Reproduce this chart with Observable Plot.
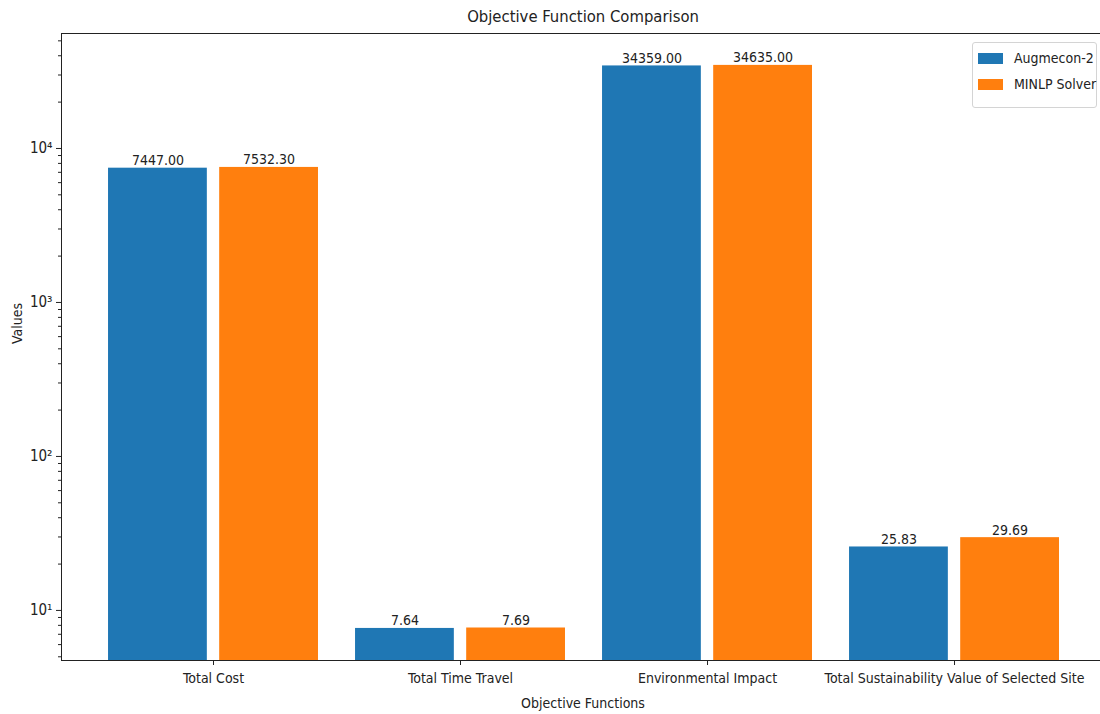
<!DOCTYPE html>
<html>
<head>
<meta charset="utf-8">
<script src="https://cdn.jsdelivr.net/npm/d3@7"></script>
<script src="https://cdn.jsdelivr.net/npm/@observablehq/plot@0.6"></script>
<style>
  body { margin: 0; background: #fff; }
  #wrap { position: relative; width: 1100px; height: 714px; overflow: hidden;
          font-family: "DejaVu Sans Condensed", "DejaVu Sans", sans-serif; font-stretch: condensed; color: #222; }
  #title { position: absolute; left: 0; top: 7px; width: 1166px; text-align: center; font-size: 16.5px; line-height: 20px; }
  #chart { position: absolute; left: 0; top: 32px; }
  #legend { position: absolute; left: 972px; top: 42px; width: 125px; height: 66px; box-sizing: border-box;
            border: 1px solid #d4d4d4; border-radius: 3px; background: rgba(255,255,255,0.85); }
  .row { position: absolute; left: 5px; height: 12px; display: flex; align-items: center; font-size: 14px; white-space: nowrap; }
  .sw { width: 25px; height: 11px; margin-right: 11px; flex: none; }
</style>
</head>
<body>
<div id="wrap">
  <div id="title"></div>
  <div id="chart"></div>
  <div id="legend"></div>
</div>
<script>
const titleText = "Objective Function Comparison";
const xLabel = "Objective Functions";
const yLabel = "Values";
const categories = ["Total Cost", "Total Time Travel", "Environmental Impact", "Total Sustainability Value of Selected Site"];
const series = ["Augmecon-2", "MINLP Solver"];
const augmecon = [7447.00, 7.64, 34359.00, 25.83];
const minlp = [7532.30, 7.69, 34635.00, 29.69];
const colors = ["#1f77b4", "#ff7f0e"];
const majorTicks = [10, 100, 1000, 10000];

const barWidth = 0.4;
const offsets = [-0.225, 0.225];
const yDomain = [4.73, 55800];
const xDomain = [-0.6154, 3.591];

const values = [augmecon, minlp];
const data = [];
categories.forEach((c, i) => {
  series.forEach((s, j) => {
    data.push({cat: c, i, series: s, value: values[j][i], xc: i + offsets[j]});
  });
});

const minorTicks = [];
for (let e = 0; e <= 4; e++) {
  for (let k = 2; k <= 9; k++) {
    const v = k * Math.pow(10, e);
    if (v >= yDomain[0] && v <= yDomain[1]) minorTicks.push(v);
  }
}
const sup = {"0":"⁰","1":"¹","2":"²","3":"³","4":"⁴","5":"⁵","6":"⁶","7":"⁷","8":"⁸","9":"⁹"};
const fmtPow = v => "10" + String(Math.round(Math.log10(v))).split("").map(ch => sup[ch]).join("");

document.getElementById("title").textContent = titleText;

const plot = Plot.plot({
  width: 1100,
  height: 682,
  marginTop: 1,
  marginBottom: 54,
  marginLeft: 61,
  marginRight: 0,
  style: {fontFamily: "'DejaVu Sans Condensed', 'DejaVu Sans', sans-serif", fontSize: "14px", color: "#222", background: "white", overflow: "visible"},
  x: {type: "linear", domain: xDomain, axis: null},
  y: {type: "log", domain: yDomain, axis: null},
  color: {domain: series, range: colors},
  marks: [
    Plot.rectY(data, {
      x1: d => d.xc - barWidth / 2,
      x2: d => d.xc + barWidth / 2,
      y1: yDomain[0],
      y2: "value",
      fill: "series"
    }),
    Plot.text(data, {
      x: "xc", y: "value", text: d => d.value.toFixed(2),
      lineAnchor: "bottom", dy: -3, fontSize: 14, fill: "#222"
    }),
    Plot.axisY({ticks: minorTicks, tickFormat: () => "", tickSize: 3, label: null, stroke: "#222"}),
    Plot.axisY({ticks: majorTicks, tickFormat: fmtPow, tickSize: 5, tickPadding: 4, label: null, fontSize: 15, stroke: "#222"}),
    Plot.axisX({ticks: categories.map((c, i) => i), tickFormat: i => categories[i], tickSize: 5, tickPadding: 8, label: null, fontSize: 14, stroke: "#222"}),
    Plot.frame({anchor: "left", stroke: "#222"}),
    Plot.frame({anchor: "top", stroke: "#222"}),
    Plot.frame({anchor: "bottom", stroke: "#222"}),
    Plot.text([xLabel], {text: d => d, frameAnchor: "bottom", lineAnchor: "middle", dx: 2, dy: 43, fontSize: 14, fill: "#222"}),
    Plot.text([yLabel], {text: d => d, frameAnchor: "left", rotate: -90, dx: -44, dy: -3, fontSize: 14, fill: "#222", fontFamily: "DejaVu Sans"})
  ]
});
document.getElementById("chart").appendChild(plot);

const legend = document.getElementById("legend");
series.forEach((s, j) => {
  const row = document.createElement("div");
  row.className = "row";
  row.style.top = (9 + j * 26) + "px";
  const sw = document.createElement("div");
  sw.className = "sw";
  sw.style.background = colors[j];
  const label = document.createElement("span");
  label.textContent = s;
  row.appendChild(sw);
  row.appendChild(label);
  legend.appendChild(row);
});
</script>
</body>
</html>
